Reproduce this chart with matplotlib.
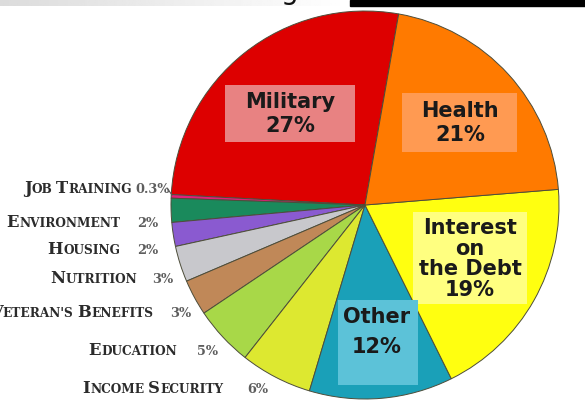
import matplotlib
matplotlib.use('Agg')
import matplotlib.pyplot as plt
import numpy as np
from matplotlib.patches import Rectangle

# spending shares, counter-clockwise from the top
categories = ['Military', 'Job Training', 'Environment', 'Housing', 'Nutrition',
              "Veteran's Benefits", 'Education', 'Income Security', 'Other',
              'Interest on the Debt', 'Health']
shares = [27, 0.3, 2, 2, 3, 3, 5, 6, 12, 19, 21]
pct_labels = ['27%', '0.3%', '2%', '2%', '3%', '3%', '5%', '6%', '12%', '19%', '21%']
colors = ['#dd0000', '#e0207a', '#1a8a5c', '#8a5ad0', '#c8c8cc', '#c08858',
          '#a8d848', '#dde830', '#1aa0b8', '#ffff10', '#ff7a00']

W, H = 585, 403
fig = plt.figure(figsize=(W / 100, H / 100), dpi=100)
ax = fig.add_axes([0, 0, 1, 1])


def Y(y):
    return H - y


ax.pie(shares, colors=colors, startangle=80, counterclock=True, radius=194,
       center=(365, Y(205)), frame=True,
       wedgeprops=dict(edgecolor='#4d4d3a', linewidth=0.7))
ax.set_xlim(0, W)
ax.set_ylim(0, H)
ax.set_aspect('equal')
ax.axis('off')

# cropped heading strip at the very top
grad = np.linspace(0.86, 1.0, 256).reshape(1, -1)
ax.imshow(grad, extent=(0, 350, Y(6), Y(0)), cmap='gray', vmin=0, vmax=1,
          aspect='auto', zorder=5)
ax.add_patch(Rectangle((350, Y(6)), W - 350, 6, color='black', zorder=5))
ax.text(281, Y(-1), 'g', fontsize=20, color='#111111', va='baseline', zorder=6)

# boxed labels inside the big slices
boxes = {
    'Military': ((225, 85, 130, 57), '#e88282'),
    'Health': ((402, 93, 115, 59), '#ff9a52'),
    'Interest on the Debt': ((413, 212, 114, 92), '#ffff80'),
    'Other': ((338, 300, 80, 85), '#5cc2d8'),
}
for name, ((bx, by, bw, bh), fc) in boxes.items():
    ax.add_patch(Rectangle((bx, Y(by + bh)), bw, bh, facecolor=fc,
                           edgecolor='none', zorder=3))

inner = {
    'Military': ('Military', (290, 114), 1.3),
    'Health': ('Health', (460, 123), 1.3),
    'Interest on the Debt': ('Interest\non\nthe Debt', (470, 259), 1.05),
    'Other': ('Other', (377, 332), 1.6),
}
for name, (txt, (tx, ty), ls) in inner.items():
    i = categories.index(name)
    ax.text(tx, Y(ty), txt + '\n' + pct_labels[i], ha='center', va='center',
            fontsize=15, weight='bold', color='#1a1a1a', linespacing=ls,
            zorder=4)

# small-caps labels for the thin slices on the left
renderer = fig.canvas.get_renderer()


def small_caps(x_right, y, text, big, small, color):
    pieces = []
    for k, word in enumerate(text.split()):
        if k:
            pieces.append(None)
        pieces.append((word[0], big))
        if len(word) > 1:
            pieces.append((word[1:].upper(), small))
    gap = small * 0.45
    arts = []
    for p in pieces:
        if p is None:
            arts.append(None)
            continue
        arts.append(ax.text(0, Y(y), p[0], fontsize=p[1], family='DejaVu Serif',
                            weight='bold', color=color, va='baseline', zorder=4))
    widths = [gap if a is None else a.get_window_extent(renderer).width for a in arts]
    x = x_right - sum(widths)
    for a, w in zip(arts, widths):
        if a is not None:
            a.set_x(x)
        x += w


side = {
    'Job Training': (132, 193, 135),
    'Environment': (120, 227, 137),
    'Housing': (120, 254, 137),
    'Nutrition': (137, 283, 152),
    "Veteran's Benefits": (153, 317, 170),
    'Education': (177, 355, 197),
    'Income Security': (223, 393, 247),
}
for name, (xr, yb, xp) in side.items():
    i = categories.index(name)
    small_caps(xr, yb, name, 11.8, 8.7, '#2b2b2b')
    ax.text(xp, Y(yb), pct_labels[i], fontsize=9.3, family='DejaVu Serif',
            weight='bold', color='#5e5e5e', va='baseline', zorder=4)

ax.plot([167, 172], [Y(188), Y(195)], color='#555555', lw=0.8)

fig.savefig('out.png', dpi=100)
